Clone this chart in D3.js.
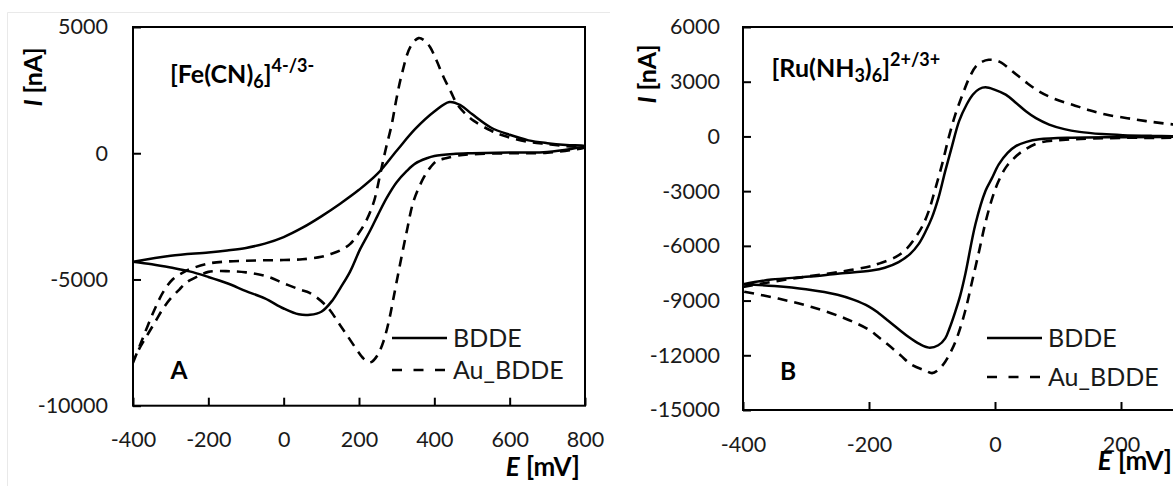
<!DOCTYPE html>
<html>
<head>
<meta charset="utf-8">
<script src="https://cdn.jsdelivr.net/npm/d3@7"></script>
<style>
  body { margin: 0; background: #fff; }
  svg { display: block; font-family: Lato, "Open Sans", sans-serif; }
</style>
</head>
<body>
<div id="chart"></div>
<script>
// ---- data: [E (mV), I (nA)] ----

// Panel A, [Fe(CN)6]4-/3-
const feBddeFwd = [[-400,-4300],[-300,-4060],[-200,-3930],[-150,-3850],[-100,-3750],[-50,-3580],[0,-3320],
  [50,-2950],[100,-2500],[150,-2000],[200,-1450],[250,-800],[300,100],[350,970],[400,1650],[440,2030],
  [470,1900],[500,1550],[550,1020],[600,730],[650,510],[700,400],[750,330],[800,290]];
const feBddeRev = [[800,60],[700,50],[600,30],[500,0],[450,-30],[400,-110],[380,-200],[350,-400],[327,-700],
  [300,-1150],[274,-1760],[250,-2450],[229,-3080],[203,-3800],[176,-4700],[150,-5350],[130,-5820],[100,-6280],
  [70,-6400],[40,-6380],[0,-6150],[-50,-5750],[-100,-5460],[-150,-5150],[-200,-4900],[-250,-4680],
  [-300,-4530],[-350,-4400],[-400,-4300]];
const feAuFwd = [[-400,-8300],[-380,-7550],[-360,-6800],[-340,-6100],[-320,-5500],[-295,-5000],[-270,-4750],
  [-250,-4600],[-200,-4370],[-150,-4290],[-100,-4260],[-50,-4240],[0,-4230],[50,-4200],[100,-4100],
  [123,-4000],[150,-3850],[176,-3600],[200,-3150],[220,-2650],[240,-1900],[256,-850],[270,100],[287,1150],
  [300,2200],[314,3150],[336,4200],[358,4560],[375,4450],[389,4200],[405,3700],[425,3000],[445,2400],
  [460,1950],[480,1600],[505,1280],[550,900],[585,690],[650,450],[700,360],[750,280],[800,230]];
const feAuRev = [[800,60],[700,20],[600,0],[500,-40],[460,-100],[430,-200],[407,-300],[390,-550],[372,-960],
  [345,-1890],[327,-3080],[309,-4400],[292,-5700],[280,-6600],[265,-7450],[250,-7980],[235,-8250],
  [225,-8280],[210,-8100],[194,-7780],[170,-7250],[149,-6790],[114,-6060],[69,-5530],[43,-5400],
  [0,-5150],[-46,-4870],[-100,-4720],[-153,-4670],[-200,-4700],[-224,-4850],[-259,-5130],[-277,-5400],
  [-300,-5750],[-320,-6150],[-340,-6650],[-360,-7150],[-380,-7650],[-400,-8250]];

// Panel B, [Ru(NH3)6]2+/3+
const ruBddeFwd = [[-400,-8100],[-355,-7850],[-300,-7700],[-250,-7530],[-196,-7350],[-175,-7200],[-153,-6890],
  [-135,-6450],[-121,-5890],[-110,-5200],[-100,-4440],[-90,-3400],[-79,-1900],[-68,-500],[-57,840],
  [-45,1750],[-35,2300],[-25,2600],[-15,2690],[0,2550],[17,2290],[33,1850],[49,1380],[65,1000],[86,650],
  [110,400],[134,250],[170,130],[203,70],[250,30],[282,15],[350,5],[400,0]];
const ruBddeRev = [[400,-10],[300,-20],[200,-40],[123,-70],[70,-160],[50,-300],[33,-530],[20,-900],[6,-1530],
  [-5,-2300],[-15,-2980],[-31,-4800],[-47,-7530],[-55,-8700],[-63,-9600],[-72,-10500],[-79,-11070],
  [-90,-11450],[-105,-11580],[-120,-11380],[-137,-11000],[-150,-10650],[-169,-10120],[-185,-9680],
  [-200,-9330],[-225,-8950],[-250,-8680],[-300,-8380],[-350,-8200],[-400,-8100]];
const ruAuFwd = [[-400,-8250],[-350,-7950],[-302,-7700],[-250,-7450],[-196,-7100],[-185,-6980],[-158,-6620],
  [-140,-6150],[-126,-5530],[-115,-4900],[-105,-4070],[-95,-2900],[-84,-1530],[-73,0],[-63,1200],
  [-52,2250],[-41,3200],[-30,3850],[-20,4100],[-10,4200],[0,4180],[10,4050],[28,3560],[50,2950],
  [70,2470],[95,2050],[123,1740],[150,1430],[176,1200],[210,1000],[240,840],[282,660],[340,480],[400,360]];
const ruAuRev = [[400,-20],[300,-40],[200,-80],[123,-160],[70,-350],[44,-800],[30,-1200],[17,-1710],[5,-2500],
  [-4,-3345],[-15,-4700],[-25,-6250],[-36,-7900],[-47,-9530],[-60,-11000],[-70,-11800],[-79,-12350],
  [-90,-12800],[-100,-12980],[-110,-12850],[-132,-12530],[-150,-12000],[-169,-11440],[-185,-11000],
  [-200,-10600],[-238,-9980],[-291,-9350],[-344,-8890],[-400,-8500]];

// tick values
const feXTicks = [-400, -200, 0, 200, 400, 600, 800];
const feYTicks = [-10000, -5000, 0, 5000];
const ruXTicks = [-400, -200, 0, 200, 400];
const ruYTicks = [-15000, -12000, -9000, -6000, -3000, 0, 3000, 6000];
const seriesNames = ['BDDE', 'Au_BDDE'];

const svg = d3.select('#chart').append('svg')
  .attr('width', 1173)
  .attr('height', 486);

svg.append('rect').attr('width', 1173).attr('height', 486).attr('fill', '#fff');

// faint chart-area border of panel A
svg.append('path')
  .attr('d', 'M7.5,486V12.5H610')
  .attr('fill', 'none')
  .attr('stroke', '#e9e9e9')
  .attr('stroke-width', 1);

const DASH = '10,7';

function drawPanel(p, id) {
  const x = d3.scaleLinear().domain(p.xDomain).range([p.left, p.right]);
  const y = d3.scaleLinear().domain(p.yDomain).range([p.bottom, p.top]);

  svg.append('clipPath').attr('id', 'clip' + id)
    .append('rect')
    .attr('x', p.left).attr('y', p.top)
    .attr('width', p.right - p.left).attr('height', p.bottom - p.top);

  const line = d3.line()
    .x(d => x(d[0]))
    .y(d => y(d[1]))
    .curve(d3.curveCatmullRom.alpha(0.5));

  const g = svg.append('g').attr('clip-path', 'url(#clip' + id + ')');

  // dashed first so solid lines sit on top
  g.append('path')
    .attr('d', line(p.au[0].concat(p.au[1].slice(1))))
    .attr('fill', 'none').attr('stroke', '#000')
    .attr('stroke-width', 2.6).attr('stroke-dasharray', DASH);
  g.append('path')
    .attr('d', line(p.bdde[0].concat(p.bdde[1].slice(1))))
    .attr('fill', 'none').attr('stroke', '#000')
    .attr('stroke-width', 2.5);

  // axes (ticks point inwards)
  const yAxis = d3.axisLeft(y).tickValues(p.yTicks).tickFormat(d => String(d))
    .tickSizeInner(-8).tickSizeOuter(0).tickPadding(p.yPad);
  const yG = svg.append('g').attr('transform', 'translate(' + p.left + ',0)').call(yAxis);

  const xAxis = d3.axisBottom(x).tickValues(p.xTicks).tickFormat(d => String(d))
    .tickSizeInner(-8).tickSizeOuter(0);
  const xG = svg.append('g').attr('transform', 'translate(0,' + p.bottom + ')').call(xAxis);
  xG.selectAll('text').attr('y', p.xLabelY).attr('dy', null);

  [yG, xG].forEach(a => {
    a.select('.domain').remove();
    a.selectAll('line').attr('stroke', '#000').attr('stroke-width', 2);
    a.selectAll('text')
      .attr('fill', '#1a1a1a')
      .style('font-family', 'Lato, sans-serif')
      .style('font-size', '21.5px');
  });

  // plot frame
  svg.append('rect')
    .attr('x', p.left).attr('y', p.top)
    .attr('width', p.right - p.left).attr('height', p.bottom - p.top)
    .attr('fill', 'none').attr('stroke', '#000').attr('stroke-width', 2);

  // compound label
  const t = svg.append('text')
    .attr('x', p.title.x).attr('y', p.title.y)
    .attr('font-weight', 'bold').attr('font-size', 25).attr('fill', '#000');
  p.title.parts.forEach(part => {
    t.append('tspan')
      .attr('dy', part.dy || 0)
      .attr('font-size', part.size || 25)
      .text(part.text);
  });

  // panel letter
  svg.append('text')
    .attr('x', p.letter.x).attr('y', p.letter.y)
    .attr('font-weight', 'bold').attr('font-size', 24.5)
    .text(p.letter.text);

  // legend
  const lg = svg.append('g');
  seriesNames.forEach((name, i) => {
    const ly = p.legend.ys[i];
    lg.append('line')
      .attr('x1', p.legend.x).attr('x2', p.legend.x + 55)
      .attr('y1', ly).attr('y2', ly)
      .attr('stroke', '#000').attr('stroke-width', 2.5)
      .attr('stroke-dasharray', i === 1 ? '10,11.5' : null);
    lg.append('text')
      .attr('x', p.legend.x + 61).attr('y', ly + 8.5)
      .attr('font-size', 25).attr('fill', '#1a1a1a')
      .text(name);
  });

  // axis titles
  const xt = svg.append('text')
    .attr('x', p.xTitle.x).attr('y', p.xTitle.y)
    .attr('text-anchor', 'end').attr('font-weight', 'bold').attr('font-size', 26);
  xt.append('tspan').attr('font-style', 'italic').text('E');
  xt.append('tspan').text(' [mV]');

  const yt = svg.append('text')
    .attr('transform', 'translate(' + p.yTitle.x + ',' + p.yTitle.y + ') rotate(-90)')
    .attr('text-anchor', 'middle').attr('font-weight', 'bold').attr('font-size', 25);
  yt.append('tspan').attr('font-style', 'italic').text('I');
  yt.append('tspan').text(' [nA]');
}

drawPanel({
  left: 133, right: 585, top: 27, bottom: 405.7,
  xDomain: [-400, 800], yDomain: [-10000, 5000],
  xTicks: feXTicks, yTicks: feYTicks, yPad: 25, xLabelY: 41,
  bdde: [feBddeFwd, feBddeRev], au: [feAuFwd, feAuRev],
  title: { x: 170, y: 83, parts: [
    { text: '[Fe(CN)' },
    { text: '6', size: 18, dy: 5 },
    { text: ']', dy: -5 },
    { text: '4-/3-', size: 18, dy: -11 }
  ] },
  letter: { x: 170.5, y: 379, text: 'A' },
  legend: { x: 392, ys: [338, 370] },
  xTitle: { x: 580, y: 476 },
  yTitle: { x: 42, y: 77 }
}, 'A');

drawPanel({
  left: 743, right: 1247, top: 27, bottom: 410,
  xDomain: [-400, 400], yDomain: [-15000, 6000],
  xTicks: ruXTicks, yTicks: ruYTicks, yPad: 23, xLabelY: 42,
  bdde: [ruBddeFwd, ruBddeRev], au: [ruAuFwd, ruAuRev],
  title: { x: 771.5, y: 77, parts: [
    { text: '[Ru(NH' },
    { text: '3', size: 18, dy: 5 },
    { text: ')', dy: -5 },
    { text: '6', size: 18, dy: 5 },
    { text: ']', dy: -5 },
    { text: '2+/3+', size: 18, dy: -11 }
  ] },
  letter: { x: 780, y: 380, text: 'B' },
  legend: { x: 987, ys: [338, 377] },
  xTitle: { x: 1172, y: 470 },
  yTitle: { x: 656, y: 74 }
}, 'B');
</script>
</body>
</html>
